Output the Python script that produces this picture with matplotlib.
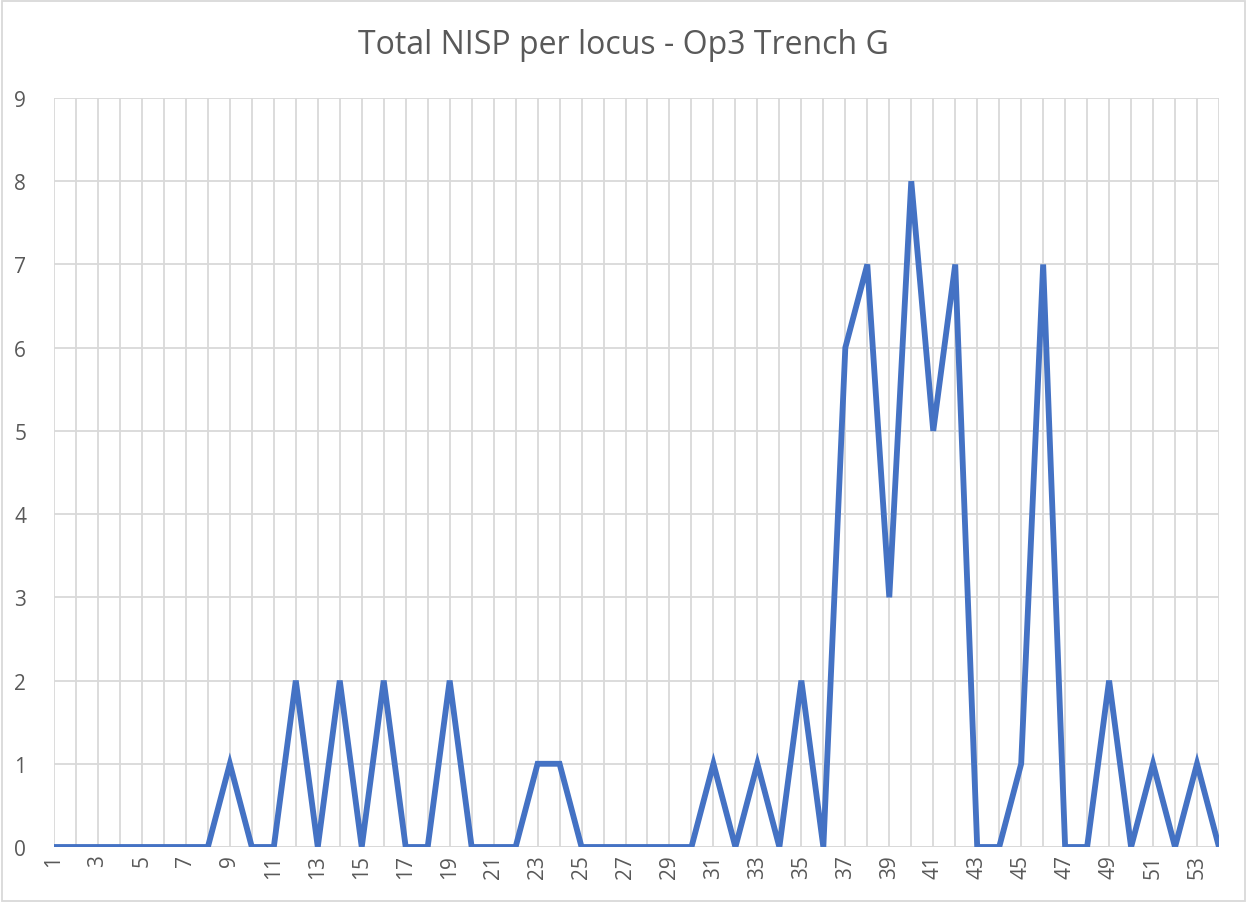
import numpy as np
import matplotlib.pyplot as plt
from matplotlib.patches import Rectangle

# data: total NISP per locus
loci = list(range(1, 55))
nisp = [0, 0, 0, 0, 0, 0, 0, 0, 1, 0,
        0, 2, 0, 2, 0, 2, 0, 0, 2, 0,
        0, 0, 1, 1, 0, 0, 0, 0, 0, 0,
        1, 0, 1, 0, 2, 0, 6, 7, 3, 8,
        5, 7, 0, 0, 1, 7, 0, 0, 2, 0,
        1, 0, 1, 0]
tick_labels = [str(v) if v % 2 == 1 else "" for v in loci]

W, H = 1247, 904
fig = plt.figure(figsize=(W / 100, H / 100), dpi=100)
ax = fig.add_axes([54 / W, 1 - 848 / H, (1219 - 54) / W, (848 - 99) / H])

ax.plot(loci, nisp, color="#4472C4", linewidth=4.2, solid_joinstyle="miter", zorder=3)

ax.set_xlim(1, 54)
ax.set_ylim(0, 9)
ax.set_xticks(loci)
ax.set_xticklabels(tick_labels, rotation=90, fontsize=15, color="#595959",
                   family="Open Sans")
ax.set_yticks(range(0, 10))
ax.set_yticklabels([str(i) for i in range(10)], fontsize=15, color="#595959",
                   family="Open Sans")
ax.tick_params(axis="both", length=0)
ax.tick_params(axis="x", pad=5)
ax.tick_params(axis="y", pad=20)

ax.grid(True, color="#D9D9D9", linewidth=1.3)
for s in ax.spines.values():
    s.set_visible(False)
ax.axhline(0, color="#D9D9D9", linewidth=1.3, zorder=1)

fig.text(0.5, 1 - 45 / H, "Total NISP per locus - Op3 Trench G", ha="center",
         va="center", fontsize=23, color="#595959", family="Open Sans")

# chart area border
fig.patches.append(Rectangle((2 / W, 2 / H), 1 - 4 / W, 1 - 4 / H,
                             transform=fig.transFigure, fill=False,
                             edgecolor="#D9D9D9", linewidth=1.3))

fig.savefig("out.png", dpi=100)
